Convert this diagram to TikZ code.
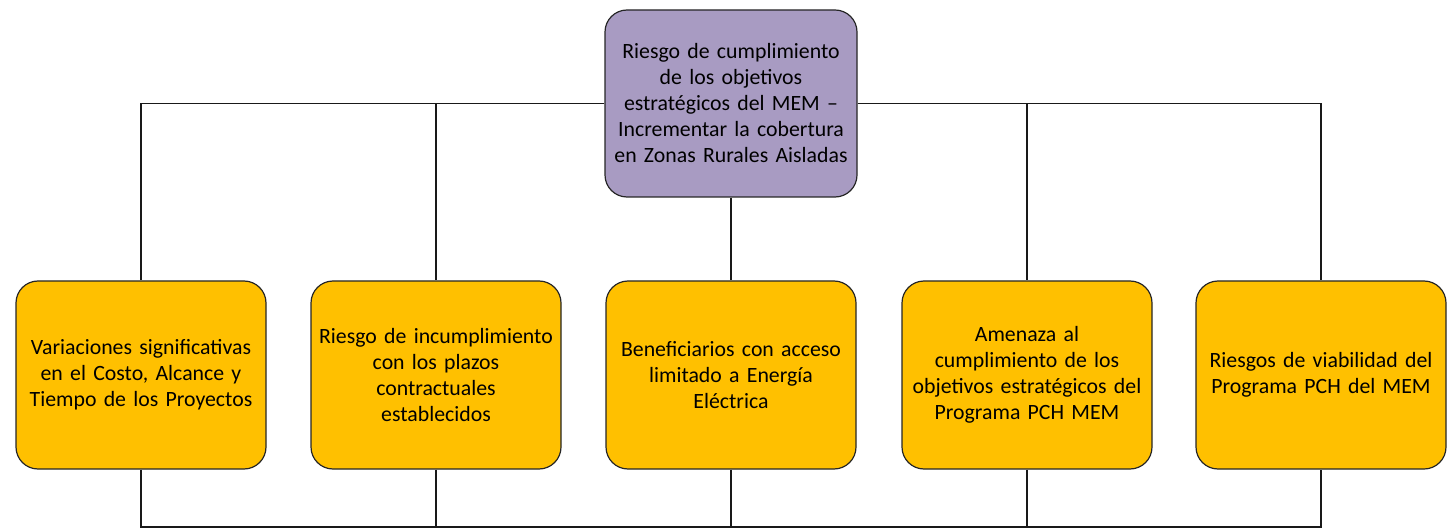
\documentclass[tikz,border=0pt]{standalone}
\usepackage{fontspec}
\setmainfont{Carlito}
\begin{document}
\begin{tikzpicture}[x=1pt,y=-1pt,
  box/.style={draw=black!85, line width=1.2pt, rounded corners=22pt, minimum width=250pt, minimum height=188pt, align=center, text width=246pt, font=\fontsize{21.8}{26}\selectfont, inner sep=0pt},
  leaf/.style={box, fill=orange1},
  root/.style={box, fill=purple1, minimum width=252pt, minimum height=187pt},
  conn/.style={draw=black!90, line width=1.3pt}]
\definecolor{orange1}{HTML}{FFC000}
\definecolor{purple1}{HTML}{A89BC2}
\useasboundingbox (0,0) rectangle (1453,529);
\coordinate (bot) at (731,527);
\node[root] (top) at (731,103.5) {Riesgo de cumplimiento\\de los objetivos\\estratégicos del MEM –\\Incrementar la cobertura\\en Zonas Rurales Aisladas};
\node[leaf] (b1) at (141,375) {Variaciones significativas\\en el Costo, Alcance y\\Tiempo de los Proyectos};
\node[leaf] (b2) at (436,375) {Riesgo de incumplimiento\\con los plazos\\contractuales\\establecidos};
\node[leaf] (b3) at (731,375) {Beneficiarios con acceso\\limitado a Energía\\Eléctrica};
\node[leaf] (b4) at (1027,375) {Amenaza al\\cumplimiento de los\\objetivos estratégicos del\\Programa PCH MEM};
\node[leaf] (b5) at (1321,375) {Riesgos de viabilidad del\\Programa PCH del MEM};
\draw[conn] (top.west) -| (b1.north);
\draw[conn] (top.west) -| (b2.north);
\draw[conn] (top.east) -| (b4.north);
\draw[conn] (top.east) -| (b5.north);
\draw[conn] (top.south) -- (b3.north);
\draw[conn] (b1.south) |- (bot) -| (b5.south);
\draw[conn] (b2.south) -- (b2.south |- bot);
\draw[conn] (b3.south) -- (bot);
\draw[conn] (b4.south) -- (b4.south |- bot);
\end{tikzpicture}
\end{document}
